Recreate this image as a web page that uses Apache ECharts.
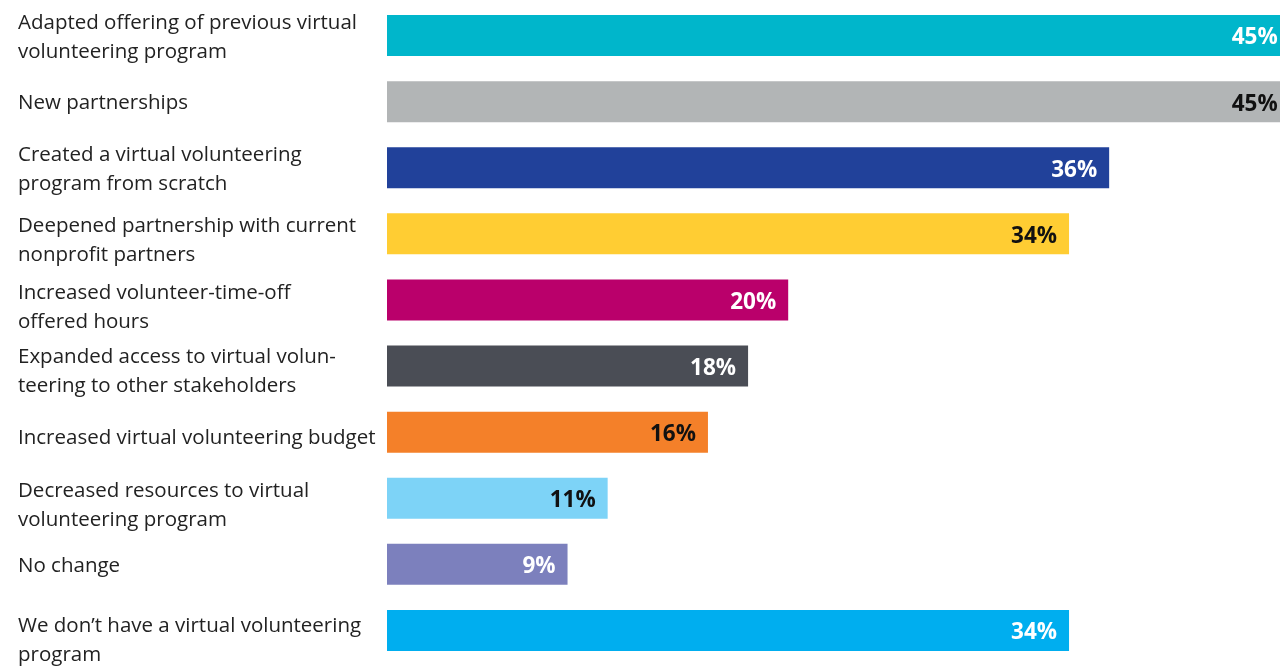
<!DOCTYPE html>
<html>
<head>
<meta charset="utf-8">
<style>
html,body{margin:0;padding:0;background:#fff;}
#chart{width:1280px;height:669px;}
</style>
<script src="https://cdn.jsdelivr.net/npm/echarts@6/dist/echarts.min.js"></script>
</head>
<body>
<div id="chart"></div>
<script>
const categories = [
  "Adapted offering of previous virtual\nvolunteering program",
  "New partnerships",
  "Created a virtual volunteering\nprogram from scratch",
  "Deepened partnership with current\nnonprofit partners",
  "Increased volunteer-time-off\noffered hours",
  "Expanded access to virtual volun-\nteering to other stakeholders",
  "Increased virtual volunteering budget",
  "Decreased resources to virtual\nvolunteering program",
  "No change",
  "We don\u2019t have a virtual volunteering\nprogram"
];
const values = [45, 45, 36, 34, 20, 18, 16, 11, 9, 34];
const barColors = ["#00B6CB","#B2B5B6","#21419A","#FFCD33","#BA006B","#4A4D55","#F48029","#7DD3F7","#7C80BD","#00AEEF"];
const labelColors = ["#ffffff","#111111","#ffffff","#111111","#ffffff","#ffffff","#111111","#111111","#ffffff","#ffffff"];
// vertical nudge of each category label relative to its bar (px, positive = down)
const labelNudge = [2, 1.5, 1.5, 6.5, 7.5, 6, 6.5, 7.5, 1.5, 10];

const rich = {
  t: { fontFamily: 'Open Sans', fontSize: 20.5, lineHeight: 29, color: '#222222' }
};
labelNudge.forEach((n, i) => {
  rich['s' + i] = { fontSize: 1, lineHeight: Math.max(1, Math.abs(n) * 2), color: 'rgba(0,0,0,0)' };
});

function fmtLabel(value, index) {
  const body = value.split('\n').map(l => '{t|' + l + '}').join('\n');
  const n = labelNudge[index];
  const sp = '{s' + index + '| }';
  return n >= 0 ? sp + '\n' + body : body + '\n' + sp;
}

const chart = echarts.init(document.getElementById('chart'));
chart.setOption({
  animation: false,
  backgroundColor: '#ffffff',
  grid: { left: 387, right: -9.7, top: 2.5, bottom: 5.5, outerBoundsMode: 'none', containLabel: false },
  xAxis: { type: 'value', min: 0, max: 45, show: false },
  yAxis: {
    type: 'category',
    inverse: true,
    data: categories,
    axisLine: { show: false },
    axisTick: { show: false },
    splitLine: { show: false },
    axisLabel: {
      margin: 369,
      align: 'left',
      color: '#222222',
      fontFamily: 'Open Sans',
      fontSize: 20.5,
      lineHeight: 29,
      formatter: fmtLabel,
      rich: rich
    }
  },
  series: [{
    type: 'bar',
    barWidth: 41,
    data: values.map((v, i) => ({
      value: v,
      itemStyle: { color: barColors[i] },
      label: { color: labelColors[i] }
    })),
    label: {
      show: true,
      position: 'insideRight',
      distance: 12,
      offset: [0, 2.5],
      formatter: '{c}%',
      fontFamily: 'Open Sans',
      fontWeight: 'bold',
      fontSize: 22.5
    }
  }]
});
</script>
</body>
</html>
